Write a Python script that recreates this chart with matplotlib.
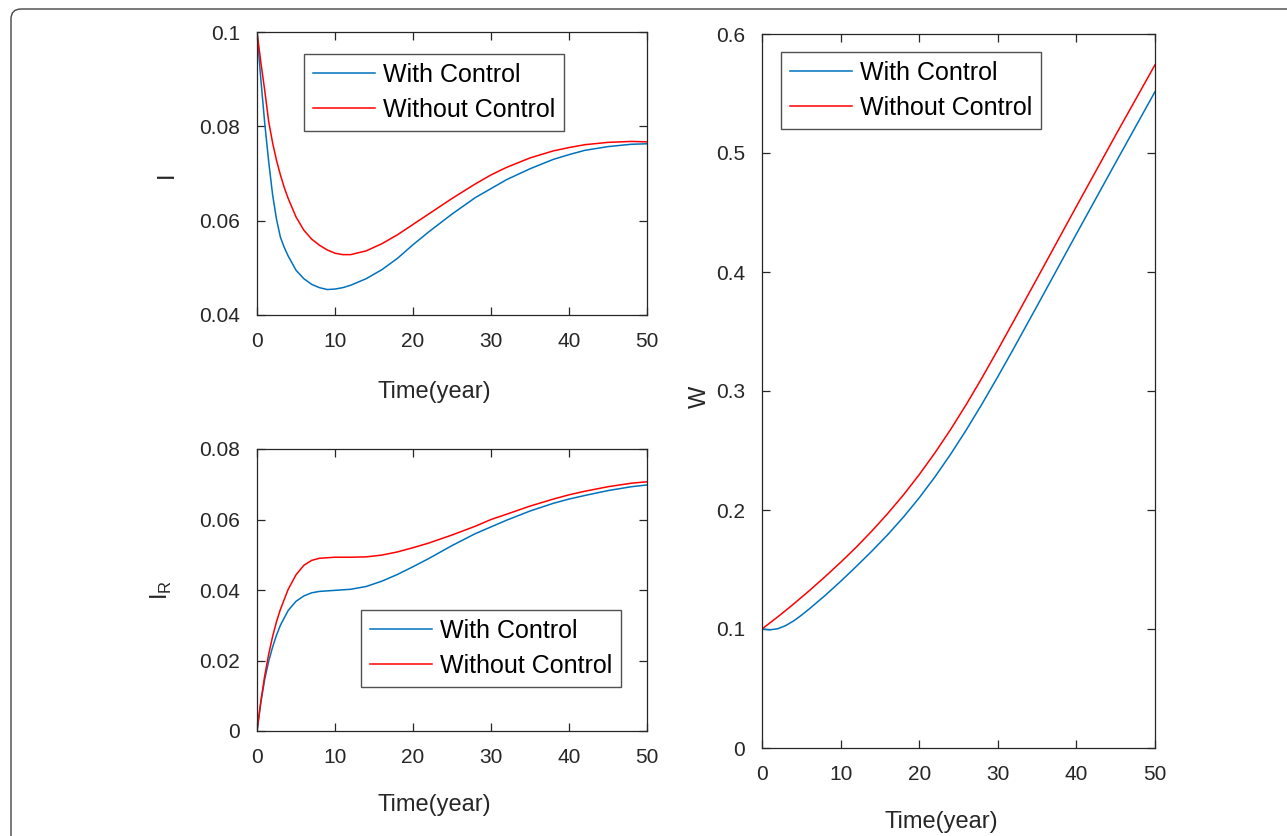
import numpy as np
import matplotlib.pyplot as plt
from matplotlib.patches import FancyBboxPatch
from matplotlib.ticker import FuncFormatter

plt.rcParams['font.family'] = ['Liberation Sans', 'DejaVu Sans']

# I (infected)
t_I = [0, 0.5, 1, 1.5, 2, 2.5, 3, 3.5, 4, 5, 6, 7, 8, 9, 10, 11, 12, 14, 16, 18,
       20, 22, 25, 28, 30, 32, 35, 38, 40, 42, 45, 48, 50]
I_ctrl = [0.1, 0.0898, 0.0805, 0.0725, 0.0655, 0.0603, 0.0565, 0.0543, 0.0525, 0.0495,
          0.0477, 0.0465, 0.0458, 0.0454, 0.0455, 0.0458, 0.0463, 0.0477, 0.0496, 0.0520,
          0.0549, 0.0576, 0.0614, 0.0649, 0.0668, 0.0687, 0.0710, 0.0730, 0.0740, 0.0749,
          0.0757, 0.0762, 0.0763]
I_noctrl = [0.1, 0.0935, 0.0875, 0.081, 0.0765, 0.0728, 0.0697, 0.0670, 0.0647, 0.0608,
            0.0580, 0.0561, 0.0548, 0.0538, 0.0531, 0.0528, 0.0528, 0.0536, 0.0551, 0.0570,
            0.0592, 0.0614, 0.0647, 0.0678, 0.0697, 0.0713, 0.0733, 0.0748, 0.0755, 0.0761,
            0.0766, 0.0768, 0.0767]

# I_R, bottom-left panel
t_IR = [0, 0.5, 1, 1.5, 2, 2.5, 3, 4, 5, 6, 7, 8, 10, 12, 14, 16, 18, 20, 22, 25,
        28, 30, 32, 35, 38, 40, 42, 45, 48, 50]
IR_ctrl = [0, 0.0082, 0.0148, 0.0198, 0.0238, 0.0272, 0.0300, 0.0342, 0.0368, 0.0383,
           0.0392, 0.0396, 0.0399, 0.0402, 0.0410, 0.0425, 0.0444, 0.0466, 0.0489, 0.0526,
           0.0560, 0.0579, 0.0598, 0.0624, 0.0646, 0.0658, 0.0668, 0.0682, 0.0693, 0.0698]
IR_noctrl = [0, 0.0086, 0.0158, 0.0218, 0.0268, 0.0310, 0.0345, 0.0402, 0.0443, 0.0470,
             0.0484, 0.0490, 0.0493, 0.0493, 0.0494, 0.0499, 0.0508, 0.0520, 0.0533, 0.0556,
             0.0581, 0.0600, 0.0615, 0.0638, 0.0658, 0.0670, 0.0680, 0.0693, 0.0703, 0.0707]

# W, right panel
t_W = [0, 1, 2, 3, 4, 5, 6, 8, 10, 12, 14, 16, 18, 20, 22, 24, 26, 28, 30, 32,
       35, 40, 45, 50]
W_ctrl = [0.1, 0.0993, 0.1002, 0.1028, 0.1067, 0.1115, 0.1168, 0.128, 0.140, 0.1526,
          0.1656, 0.1793, 0.1941, 0.2102, 0.2278, 0.2469, 0.2674, 0.2892, 0.312, 0.3355,
          0.3715, 0.432, 0.492, 0.5515]
W_noctrl = [0.1, 0.1051, 0.1102, 0.1155, 0.1209, 0.1265, 0.1321, 0.1438, 0.156, 0.1688,
            0.1825, 0.1971, 0.2127, 0.2297, 0.248, 0.2677, 0.2888, 0.3112, 0.3346, 0.3585,
            0.3946, 0.4551, 0.5151, 0.5741]

labels = ['With Control', 'Without Control']
xticks = [0, 10, 20, 30, 40, 50]

blue, red, dark = '#0072BD', '#FF0000', '#262626'
W_px, H_px = 1287, 836

fig = plt.figure(figsize=(W_px / 100, H_px / 100), dpi=100)

# rounded frame around the figure (runs off the right and bottom edges)
frame = FancyBboxPatch((0.11, -1.0), 14.0, (H_px - 9) / 100 + 1.0,
                       boxstyle='round,pad=0,rounding_size=0.1',
                       transform=fig.dpi_scale_trans, fill=False, ec='#444444', lw=1.0)
fig.patches.append(frame)


def px_axes(l, t, r, b):
    return fig.add_axes([l / W_px, 1 - b / H_px, (r - l) / W_px, (b - t) / H_px])


fmt = FuncFormatter(lambda v, p: f'{v:g}')


def style(ax, ylim, yticks, leg_xy, ylabel, ylab_xy, xlab_y):
    ax.set_xlim(0, 50)
    ax.set_ylim(*ylim)
    ax.set_xticks(xticks)
    ax.set_yticks(yticks)
    ax.yaxis.set_major_formatter(fmt)
    ax.tick_params(direction='in', length=6, width=0.9, colors=dark, labelsize=15,
                   top=True, right=True, pad=12)
    for s in ax.spines.values():
        s.set_color(dark)
        s.set_linewidth(0.9)
    ax.set_xlabel('Time(year)', fontsize=17, color=dark)
    ax.xaxis.set_label_coords(0.455, xlab_y)
    ax.xaxis.label.set_va('center')
    ax.set_ylabel(ylabel, fontsize=17, color=dark)
    ax.yaxis.set_label_coords(*ylab_xy)
    ax.yaxis.label.set_va('center')
    leg = ax.legend(labels, loc='upper left', bbox_to_anchor=leg_xy, borderaxespad=0,
                    fontsize=18, frameon=True, fancybox=False, handlelength=2.5,
                    handletextpad=0.3, borderpad=0.35, labelspacing=0.45)
    leg.get_frame().set_edgecolor(dark)
    leg.get_frame().set_linewidth(1.0)


ax1 = px_axes(257, 32, 647, 315)
ax1.plot(t_I, I_ctrl, color=blue, lw=1.1)
ax1.plot(t_I, I_noctrl, color=red, lw=1.1)
style(ax1, (0.04, 0.1), [0.04, 0.06, 0.08, 0.1], (0.1205, 0.922), 'I',
      (-0.23, 0.495), -0.272)

ax2 = px_axes(257, 449, 647, 731)
ax2.plot(t_IR, IR_ctrl, color=blue, lw=1.1)
ax2.plot(t_IR, IR_noctrl, color=red, lw=1.1)
style(ax2, (0, 0.08), [0, 0.02, 0.04, 0.06, 0.08], (0.2667, 0.429),
      'I$_\\mathregular{R}$', (-0.245, 0.5), -0.262)

ax3 = px_axes(762, 34, 1155, 748)
ax3.plot(t_W, W_ctrl, color=blue, lw=1.1)
ax3.plot(t_W, W_noctrl, color=red, lw=1.1)
style(ax3, (0, 0.6), [0, 0.1, 0.2, 0.3, 0.4, 0.5, 0.6], (0.0483, 0.975), 'W',
      (-0.158, 0.4916), -0.1036)

fig.savefig('out.png', dpi=100)
